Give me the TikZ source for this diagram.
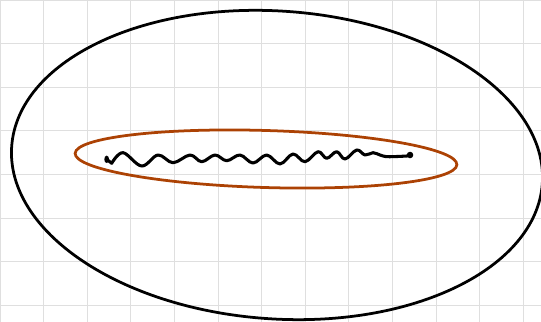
\documentclass[tikz,border=0pt]{standalone}
\usepackage{xcolor}
\definecolor{rust}{RGB}{172,66,4}

\begin{document}
\begin{tikzpicture}[line width=1.8pt]

    \useasboundingbox (0,-7.385) rectangle (12.408,0);

    % grid
    \draw[gray!25, line width=0.6pt] (0,-7.385) grid (12.408,0);

    % outer set
    \draw[black] (6.353,-3.784) ellipse[x radius=6.10cm, y radius=3.53cm, rotate=-4];

    % inner neighbourhood
    \draw[rust] (6.101,-3.647) ellipse[x radius=4.38cm, y radius=0.654cm, rotate=-1.7];

    % end points
    \coordinate (start) at (2.447,-3.654);
    \coordinate (stop) at (9.404,-3.555);
    \fill (start) ellipse[x radius=0.055cm, y radius=0.085cm];
    \fill (stop) circle (0.075cm);

    % path
    \draw[line width=2pt, line cap=round, line join=round] (start) -- plot[smooth, tension=0.6] coordinates {
        (2.562,-3.745) (2.821,-3.502) (3.250,-3.807) (3.624,-3.555)
        (3.968,-3.732) (4.358,-3.555) (4.626,-3.709) (4.931,-3.555)
        (5.200,-3.686) (5.505,-3.555) (5.803,-3.739) (6.117,-3.555)
        (6.422,-3.761) (6.720,-3.532) (6.995,-3.709) (7.294,-3.479)
        (7.493,-3.631) (7.722,-3.479) (7.913,-3.647) (8.181,-3.440)
        (8.372,-3.555) (8.555,-3.502) (8.716,-3.555) (8.899,-3.594)
        (9.328,-3.578)} -- (stop);

\end{tikzpicture}
\end{document}
